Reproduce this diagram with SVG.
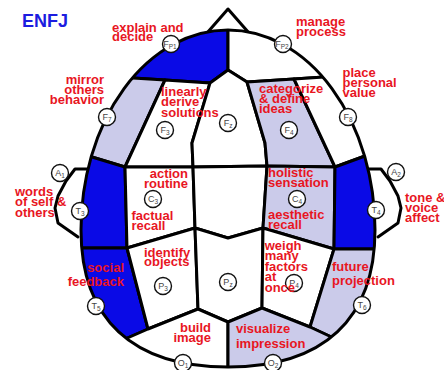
<svg xmlns="http://www.w3.org/2000/svg" width="444" height="370" viewBox="0 0 444 370">
<style>
.r{stroke:#000;stroke-width:3;stroke-linejoin:round}
.b{fill:#0a0ae6}
.l{fill:#cbcbea}
.w{fill:#fff}
.ln{fill:none;stroke:#000;stroke-width:3;stroke-linejoin:round;stroke-linecap:round}
.e circle{fill:#fff;stroke:#111;stroke-width:1.4}
.e text{font-family:"Liberation Sans",Arial,sans-serif;font-size:9px;fill:#444;text-anchor:middle}
.t{font-family:"Liberation Sans",Arial,sans-serif;font-weight:bold;font-size:13px;fill:#e8161f}
.s{font-size:6.5px}
</style>
<defs>
<clipPath id="head"><path d="M81,230 A147,200 0 0 1 375,230 C375,319 323.5,367 228,367 C132.5,367 81,319 81,230 Z"/></clipPath>
</defs>
<rect width="444" height="370" fill="#fff"/>
<g id="connectors">
<polyline class="ln" points="207,33 228,9 249,33"/>
<polyline class="ln" points="90,169 75,169 66,181 58,196 55,208 58,223 78,237"/>
<polyline class="ln" points="366,169 381,169 390,181 398,196 401,208 398,223 378,237"/>
</g>
<g clip-path="url(#head)">
<polygon id="Fp1" class="r b" points="228,0 228,70 210,83 165,80 133,78 100,78 100,0"/>
<polygon id="Fp2" class="r w" points="228,0 228,70 247,82 294,79 324,77 360,77 360,0"/>
<polygon id="F7" class="r l" points="133,78 165,80 125,167 92,157 60,157 60,78"/>
<polygon id="F3" class="r w" points="165,80 210,83 192,143 193,167 125,167"/>
<polygon id="Fz" class="r w" points="210,83 228,70 247,82 265,143 267,166 193,167 192,143"/>
<polygon id="F4" class="r l" points="247,82 294,79 335,167 267,166 265,143"/>
<polygon id="F8" class="r w" points="294,79 324,77 400,77 400,156 365,156 335,167"/>
<polygon id="T3" class="r b" points="92,157 125,167 127,248 40,248 40,157"/>
<polygon id="C3" class="r w" points="125,167 193,167 195,228 127,248"/>
<polygon id="Cz" class="r w" points="193,167 267,166 263,228 228,238 195,228"/>
<polygon id="C4" class="r l" points="267,166 335,167 334,249 263,228"/>
<polygon id="T4" class="r b" points="335,167 365,156 420,156 420,249 334,249"/>
<polygon id="T5" class="r b" points="40,248 127,248 148,329 100,350 40,350"/>
<polygon id="P3" class="r w" points="127,248 195,228 198,309 148,329"/>
<polygon id="Pz" class="r w" points="195,228 228,238 263,228 262,308 228,322 198,309"/>
<polygon id="P4" class="r w" points="263,228 334,249 310,327 262,308"/>
<polygon id="T6" class="r l" points="334,249 420,249 420,365 370,355 310,327"/>
<polygon id="O1" class="r w" points="148,329 198,309 228,322 228,400 100,400 100,350"/>
<polygon id="O2" class="r l" points="228,322 262,308 310,327 370,355 370,400 228,400"/>
</g>
<path class="ln" d="M81,230 A147,200 0 0 1 375,230 C375,319 323.5,367 228,367 C132.5,367 81,319 81,230 Z"/>
<g class="e">
<g id="nFp1"><circle cx="171" cy="44" r="8.5"/><text x="170" y="47">F<tspan class="s" dy="1.5">P1</tspan></text></g>
<g id="nFp2"><circle cx="283" cy="44" r="8.5"/><text x="282" y="47">F<tspan class="s" dy="1.5">P2</tspan></text></g>
<g id="nF7"><circle cx="107" cy="117" r="8.5"/><text x="107" y="120">F<tspan class="s" dy="1.5">7</tspan></text></g>
<g id="nF8"><circle cx="348" cy="117" r="8.5"/><text x="348" y="120">F<tspan class="s" dy="1.5">8</tspan></text></g>
<g id="nF3"><circle cx="165" cy="130" r="8.5"/><text x="165" y="133">F<tspan class="s" dy="1.5">3</tspan></text></g>
<g id="nFz"><circle cx="228" cy="123" r="8.5"/><text x="228" y="126">F<tspan class="s" dy="1.5">z</tspan></text></g>
<g id="nF4"><circle cx="289" cy="130" r="8.5"/><text x="289" y="133">F<tspan class="s" dy="1.5">4</tspan></text></g>
<g id="nA1"><circle cx="60" cy="173" r="8.5"/><text x="60" y="176">A<tspan class="s" dy="1.5">1</tspan></text></g>
<g id="nA2"><circle cx="396" cy="172" r="8.5"/><text x="396" y="175">A<tspan class="s" dy="1.5">2</tspan></text></g>
<g id="nT3"><circle cx="80" cy="211" r="8.5"/><text x="80" y="214">T<tspan class="s" dy="1.5">3</tspan></text></g>
<g id="nT4"><circle cx="376" cy="210" r="8.5"/><text x="376" y="213">T<tspan class="s" dy="1.5">4</tspan></text></g>
<g id="nC3"><circle cx="153" cy="199" r="8.5"/><text x="153" y="202">C<tspan class="s" dy="1.5">3</tspan></text></g>
<g id="nC4"><circle cx="297" cy="199" r="8.5"/><text x="297" y="202">C<tspan class="s" dy="1.5">4</tspan></text></g>
<g id="nP3"><circle cx="163" cy="286" r="8.5"/><text x="163" y="289">P<tspan class="s" dy="1.5">3</tspan></text></g>
<g id="nPz"><circle cx="228" cy="282" r="8.5"/><text x="228" y="285">P<tspan class="s" dy="1.5">z</tspan></text></g>
<g id="nP4"><circle cx="294" cy="283" r="8.5"/><text x="294" y="286">P<tspan class="s" dy="1.5">4</tspan></text></g>
<g id="nT5"><circle cx="96" cy="306" r="8.5"/><text x="96" y="309">T<tspan class="s" dy="1.5">5</tspan></text></g>
<g id="nT6"><circle cx="362" cy="305" r="8.5"/><text x="362" y="308">T<tspan class="s" dy="1.5">6</tspan></text></g>
<g id="nO1"><circle cx="183" cy="363" r="8.5"/><text x="183" y="366">O<tspan class="s" dy="1.5">1</tspan></text></g>
<g id="nO2"><circle cx="273" cy="363" r="8.5"/><text x="273" y="366">O<tspan class="s" dy="1.5">2</tspan></text></g>
</g>
<g id="labels">
<text x="22" y="27" style="font-family:'Liberation Sans',Arial,sans-serif;font-weight:bold;font-size:18px;fill:#1c1ce0">ENFJ</text>
<text class="t" x="112" y="31.5">explain and<tspan x="112" dy="9.5">decide</tspan></text>
<text class="t" x="296" y="26">manage<tspan x="296" dy="10">process</tspan></text>
<text class="t" x="104" y="84" text-anchor="end">mirror<tspan x="104" dy="10">others</tspan><tspan x="104" dy="10">behavior</tspan></text>
<text class="t" x="342.5" y="76.5">place<tspan x="342.5" dy="10">personal</tspan><tspan x="342.5" dy="10">value</tspan></text>
<text class="t" x="161" y="96">linearly<tspan x="161" dy="10.3">derive</tspan><tspan x="161" dy="10.3">solutions</tspan></text>
<text class="t" x="259" y="93.3">categorize<tspan x="259" dy="10">&amp; define</tspan><tspan x="259" dy="10">ideas</tspan></text>
<text class="t" x="188" y="178.3" text-anchor="end">action<tspan x="188" dy="10">routine</tspan></text>
<text class="t" x="131.5" y="220">factual<tspan x="131.5" dy="10">recall</tspan></text>
<text class="t" x="15" y="196">words<tspan x="15" dy="10.3">of self &amp;</tspan><tspan x="15" dy="10.3">others</tspan></text>
<text class="t" x="268" y="176.7">holistic<tspan x="268" dy="10">sensation</tspan></text>
<text class="t" x="268" y="219">aesthetic<tspan x="268" dy="9.5">recall</tspan></text>
<text class="t" x="405" y="201.7">tone &amp;<tspan x="405" dy="10">voice</tspan><tspan x="405" dy="10">affect</tspan></text>
<text class="t" x="144" y="256.7">identify<tspan x="144" dy="9.5">objects</tspan></text>
<text class="t" x="124" y="271.7" text-anchor="end">social<tspan x="124" dy="14">feedback</tspan></text>
<text class="t" x="264.7" y="250">weigh<tspan x="264.7" dy="10.4">many</tspan><tspan x="264.7" dy="10.4">factors</tspan><tspan x="264.7" dy="10.4">at</tspan><tspan x="264.7" dy="10.4">once</tspan></text>
<text class="t" x="332" y="270.7">future<tspan x="332" dy="14.3">projection</tspan></text>
<text class="t" x="211" y="332.3" text-anchor="end">build<tspan x="211" dy="9.5">image</tspan></text>
<text class="t" x="236" y="333.3">visualize<tspan x="236" dy="15">impression</tspan></text>
</g>
</svg>
